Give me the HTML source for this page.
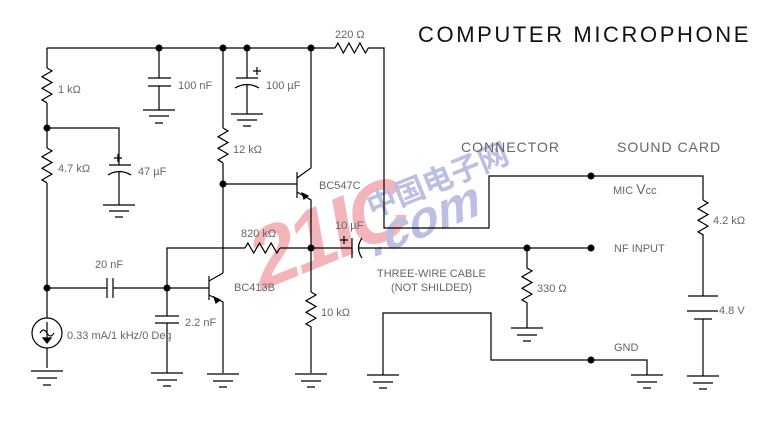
<!DOCTYPE html>
<html><head><meta charset="utf-8"><style>
html,body{margin:0;padding:0;background:#fff;}
svg{display:block;}
text{font-family:"Liberation Sans",sans-serif;fill:#666;font-size:11px;}
</style></head><body>
<svg width="776" height="430" viewBox="0 0 776 430" xmlns="http://www.w3.org/2000/svg">
<g opacity="0.85">
<text x="0" y="0" transform="translate(258,292) rotate(-22) skewX(-12)" style="font-size:84px;font-weight:bold;fill:#f2a9ae;letter-spacing:-4px">21IC</text>
<text x="0" y="0" transform="translate(372,218) rotate(-22)" style="font-size:30px;font-weight:bold;fill:#b0b4dc;font-family:'Noto Sans CJK SC',sans-serif">中国电子网</text>
<text x="0" y="0" transform="translate(372,258) rotate(-22) skewX(-20)" style="font-size:50px;font-weight:bold;fill:#b0b4dc">.com</text>
</g>
<g stroke="#000" stroke-width="1.2" fill="none">
<path d="M47 48 H335 M368 48 H384 V228 H489 V176 H703 V200 M703 234 V296"/>
<path d="M335 48 l2.9 -5 l5.5 10 l5.5 -10 l5.5 10 l5.5 -10 l5.5 10 l2.9 -5"/>
<path d="M47 48 V68 M47 103 V148 M47 183 V318 M47 348 V368"/>
<path d="M47 68 l5 2.9 l-10 5.8 l10 5.8 l-10 5.8 l10 5.8 l-10 5.8 l5 2.9"/>
<path d="M47 148 l5 2.9 l-10 5.8 l10 5.8 l-10 5.8 l10 5.8 l-10 5.8 l5 2.9"/>
<path d="M47 128 H119 V165 M109 165 H131 M108 175 Q119 168 131 175 M119 171 V205"/>
<path d="M114 158 h8 M118 154 v8"/>
<path d="M159 48 V78 M148 78 H171 M148 86 H171 M159 86 V110"/>
<path d="M247 48 V78 M236 78 H258 M235 88 Q247 81 259 88 M247 84 V114"/>
<path d="M253 71 h8 M257 67 v8"/>
<path d="M223 48 V128 M223 163 V273"/>
<path d="M223 128 l5 2.9 l-10 5.8 l10 5.8 l-10 5.8 l10 5.8 l-10 5.8 l5 2.9"/>
<path d="M223 184 H297 M297 172 V198 M297 178 L311 168 V48 M297 192 L311 200 V292"/>
<path d="M302 193 l6 3 l-4 3 z" fill="#000"/>
<path d="M311 292 l5 2.9 l-10 5.8 l10 5.8 l-10 5.8 l10 5.8 l-10 5.8 l5 2.9 V373"/>
<path d="M167 288 V248 H245 M280 248 H352 M359 248 H591"/>
<path d="M245 248 l2.9 -5 l5.8 10 l5.8 -10 l5.8 10 l5.8 -10 l5.8 10 l2.9 -5"/>
<path d="M352 238 V258 M362 238 Q355 248 362 258"/>
<path d="M340 240 h8 M344 236 v8"/>
<path d="M47 288 H107 M107 278 V298 M113 278 V298 M113 288 H209 M209 276 V300 M209 281 L223 273 M209 295 L223 302 V373"/>
<path d="M214 297 l6 3 l-4 3 z" fill="#000"/>
<path d="M167 288 V316 M155 316 H179 M155 323 H179 M167 323 V373"/>
<circle cx="47" cy="333" r="15"/>
<path d="M40 333 q3.5 -6 7 0 q3.5 6 7 0 M47 322 V338"/>
<path d="M43 338 h8 l-4 5 z" fill="#000"/>
<path d="M527 248 V268 l5 2.9 l-10 5.8 l10 5.8 l-10 5.8 l10 5.8 l-10 5.8 l5 2.9 V328"/>
<path d="M383 375 V313 H491 V360 H647 V375"/>
<path d="M703 200 l5 2.9 l-10 5.8 l10 5.8 l-10 5.8 l10 5.8 l-10 5.8 l5 2.9"/>
<path d="M688 296 H718 M687 311 H718 M694 319 H712 M703 319 V376"/>
<path d="M143 110 h32 M149 116 h20 M155 123 h8"/>
<path d="M103 205 h32 M109 211 h20 M115 217 h8"/>
<path d="M231 114 h32 M237 120 h20 M243 126 h8"/>
<path d="M31 371 h32 M37 378 h20 M43 385 h8"/>
<path d="M151 373 h32 M157 380 h20 M163 386 h8"/>
<path d="M207 374 h32 M213 381 h20 M219 387 h8"/>
<path d="M295 374 h32 M301 381 h20 M307 387 h8"/>
<path d="M367 375 h32 M373 382 h20 M379 388 h8"/>
<path d="M511 328 h32 M517 335 h20 M523 341 h8"/>
<path d="M631 375 h32 M637 382 h20 M643 388 h8"/>
<path d="M687 376 h32 M693 383 h20 M699 389 h8"/>
</g>
<g fill="#000">
<circle cx="159" cy="48" r="3.5"/><circle cx="223" cy="48" r="3.5"/><circle cx="247" cy="48" r="3.5"/><circle cx="311" cy="48" r="3.5"/>
<circle cx="47" cy="128" r="3.5"/><circle cx="223" cy="184" r="3.5"/><circle cx="47" cy="288" r="3.5"/><circle cx="167" cy="288" r="3.5"/>
<circle cx="311" cy="248" r="3.5"/><circle cx="527" cy="248" r="3.5"/><circle cx="591" cy="248" r="3.5"/><circle cx="591" cy="176" r="3.5"/><circle cx="591" cy="360" r="3.5"/>
</g>
<text x="418" y="42" style="font-size:22px;fill:#111;letter-spacing:2.6px">COMPUTER MICROPHONE</text>
<text x="335" y="38">220 Ω</text>
<text x="58" y="93">1 kΩ</text>
<text x="178" y="89">100 nF</text>
<text x="266" y="89">100 µF</text>
<text x="58" y="172">4.7 kΩ</text>
<text x="138" y="175">47 µF</text>
<text x="233" y="153">12 kΩ</text>
<text x="319" y="189">BC547C</text>
<text x="335" y="229">10 µF</text>
<text x="241" y="237">820 kΩ</text>
<text x="234" y="291">BC413B</text>
<text x="95" y="268">20 nF</text>
<text x="185" y="326">2.2 nF</text>
<text x="67" y="339">0.33 mA/1 kHz/0 Deg</text>
<text x="321" y="316">10 kΩ</text>
<text x="377" y="277">THREE-WIRE CABLE</text>
<text x="391" y="291">(NOT SHILDED)</text>
<text x="537" y="292">330 Ω</text>
<text x="461" y="152" style="font-size:14px;letter-spacing:1px">CONNECTOR</text>
<text x="617" y="152" style="font-size:14px;letter-spacing:1px">SOUND CARD</text>
<text x="613" y="194">MIC <tspan style="font-size:14px">V</tspan>cc</text>
<text x="614" y="252">NF INPUT</text>
<text x="614" y="351">GND</text>
<text x="713" y="224">4.2 kΩ</text>
<text x="719" y="314">4.8 V</text>
</svg>
</body></html>
